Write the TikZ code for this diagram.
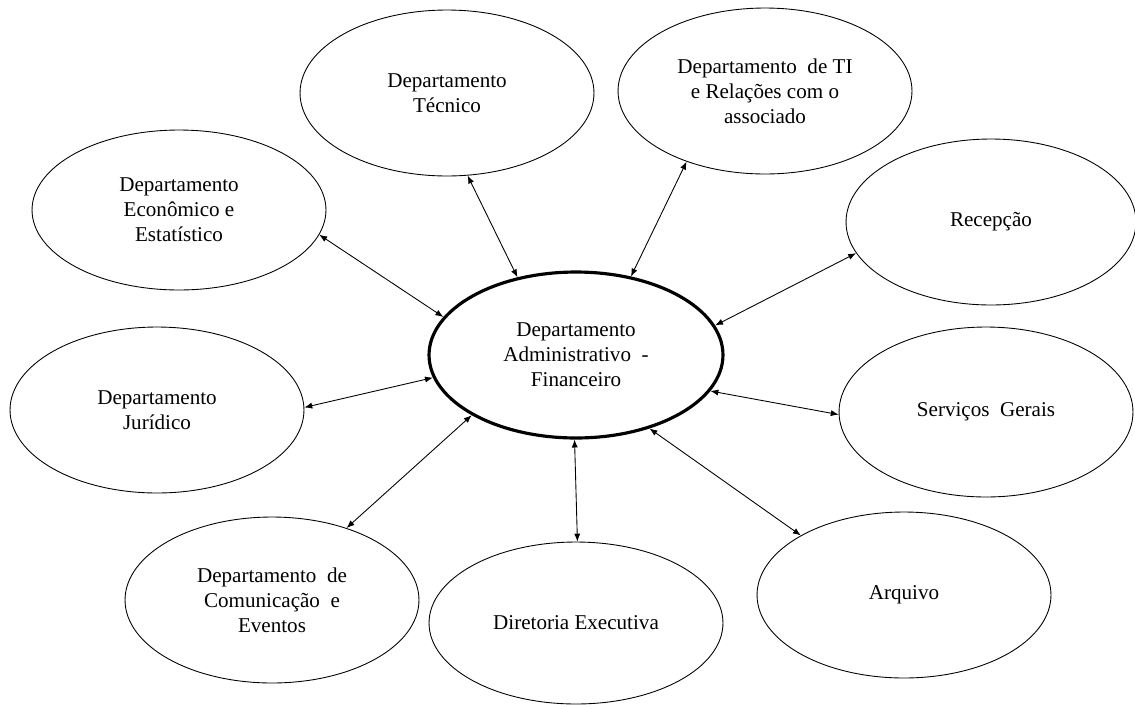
\documentclass[tikz,border=0pt]{standalone}
\usepackage{fontspec}
\setmainfont{Liberation Serif}
\usetikzlibrary{shapes.geometric,arrows.meta}
\begin{document}
\begin{tikzpicture}[x=0.02cm,y=-0.02cm,
  unit/.style={ellipse,draw,line width=0.5pt,inner sep=0pt,align=center,
    minimum width=5.88cm,minimum height=3.32cm,
    font=\fontsize{12}{14.2}\selectfont},
  hub/.style={unit,line width=1.8pt},
  link/.style={line width=0.5pt,{Latex[length=4.5pt,width=3.5pt]}-{Latex[length=4.5pt,width=3.5pt]}}]
\useasboundingbox (0,0) rectangle (1135,704);
% central department
\node[hub] (adm) at (576,355) {Departamento\\Administrativo\ \ -\\Financeiro};
% surrounding units
\node[unit] (tec) at (447,93) {Departamento\\Técnico};
\node[unit] (ti) at (765,91) {Departamento\ \ de TI\\e Relações\ com o\\associado};
\node[unit,minimum height=3.2cm] (eco) at (179,210) {Departamento\\Econômico\ e\\Estatístico};
\node[unit,minimum width=5.8cm] (rec) at (991,222) {Recepção};
\node[unit] (jur) at (157,410) {Departamento\\Jurídico};
\node[unit,minimum height=3.4cm] (ser) at (986,412) {Serviços\ \ Gerais};
\node[unit] (com) at (272,600) {Departamento\ \ de\\Comunicação\ \ e\\Eventos};
\node[unit,minimum height=3.24cm] (dir) at (576,623) {Diretoria Executiva};
\node[unit] (arq) at (904,595) {Arquivo};
% two-way links to the central department
\draw[link] (tec.-76) -- (adm.127);
\draw[link] (ti.-138) -- (adm.55);
\draw[link] (eco.-10) -- (adm.164);
\draw[link] (rec.-167) -- (adm.12);
\draw[link] (jur.1) -- (adm.189);
\draw[link] (ser.181) -- (adm.-15);
\draw[link] (com.44) -- (adm.-150);
\draw[link] (dir.89) -- (adm.-91);
\draw[link] (arq.150) -- (adm.-45);
\end{tikzpicture}
\end{document}
